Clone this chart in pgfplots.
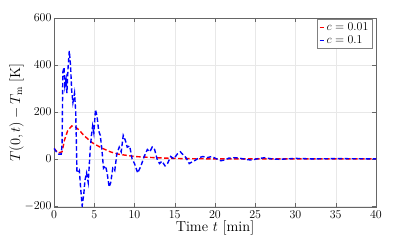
\documentclass[border=0pt]{standalone}
\usepackage{pgfplots}
\pgfplotsset{compat=1.18}
\begin{document}
\begin{tikzpicture}
\path[use as bounding box] (0,0) rectangle (415pt,243pt);
\begin{axis}[
  at={(54pt,36pt)}, anchor=south west,
  scale only axis, width=322pt, height=189pt,
  xmin=0, xmax=40, ymin=-205, ymax=600,
  xtick={0,5,...,40}, ytick={-200,0,200,400,600},
  grid=major, major grid style={draw=black!9},
  axis line style={draw=black!60},
  tick style={draw=black!60},
  tick align=inside,
  tick label style={font=\fontsize{12.5}{14}\selectfont},
  label style={font=\fontsize{14.5}{17}\selectfont},
  xlabel={Time $t$ [min]}, ylabel={$T(0,t)-T_{\mathrm{m}}$ [K]},
  xlabel style={yshift=5pt},
  ylabel style={yshift=-6pt},
  yticklabel style={xshift=1pt},
  legend style={at={(rel axis cs:0.988,0.995)}, anchor=north east, draw=black!50, font=\fontsize{13}{15}\selectfont, inner sep=1.5pt, row sep=0pt},
  legend cell align=left,
]
\addplot[color=red, line width=1.4pt, dash pattern=on 4.5pt off 2.5pt,
  legend image code/.code={\draw[red, solid, line width=1.3pt] (0pt,0pt) -- (4.5pt,0pt);}] coordinates {
(0,45) (0.5,25) (1.0,30) (1.3,80) (1.7,120) (2.2,140) (2.7,135) (3.2,120) (3.7,100) (4.2,85) (4.7,70) (5.2,60) (6,45) (7,30) (8,20) (9,15) (10,10) (12,6) (14,3) (16,1) (20,0) (40,0)
};
\addlegendentry{$c=0.01$}
\addplot[color=blue, line width=1.4pt, dash pattern=on 4.5pt off 2.5pt,
  legend image code/.code={\draw[blue, solid, line width=1.3pt] (0pt,0pt) -- (4.5pt,0pt);}] coordinates {
(0,45) (0.3,30) (0.6,20) (0.9,20) (1.0,60) (1.1,370) (1.25,390) (1.35,310) (1.5,340) (1.6,280) (1.75,390) (1.9,460) (2.05,400) (2.2,290) (2.35,240) (2.55,280) (2.7,200) (2.85,-50) (3.0,-60) (3.15,-50) (3.3,-120) (3.5,-200) (3.7,-150) (3.85,-90) (4.05,-60) (4.25,-100) (4.5,40) (4.65,100) (4.8,140) (4.95,110) (5.15,210) (5.35,180) (5.55,120) (5.75,100) (5.95,40) (6.15,-40) (6.4,-30) (6.6,-60) (6.85,-120) (7.05,-100) (7.3,-40) (7.55,-50) (7.8,20) (8.1,50) (8.35,30) (8.6,100) (8.85,80) (9.1,50) (9.4,55) (9.7,0) (10.0,-20) (10.4,-60) (10.8,-30) (11.2,10) (11.6,40) (11.9,30) (12.2,50) (12.5,40) (12.8,0) (13.1,-20) (13.4,-10) (13.8,-30) (14.1,-20) (14.5,10) (14.9,0) (15.3,20) (15.7,30) (16.1,15) (16.4,5) (16.8,-20) (17.3,-10) (17.6,-5) (18.0,5) (18.5,10) (19.0,5) (19.6,10) (20.2,0) (20.7,-8) (21.2,-5) (21.7,3) (22.5,5) (23.2,2) (24,-3) (24.5,-5) (25.5,2) (26.2,5) (27,0) (28,-2) (30,2) (32,0) (35,1) (40,0)
};
\addlegendentry{$c=0.1$}
\end{axis}
\end{tikzpicture}
\end{document}
